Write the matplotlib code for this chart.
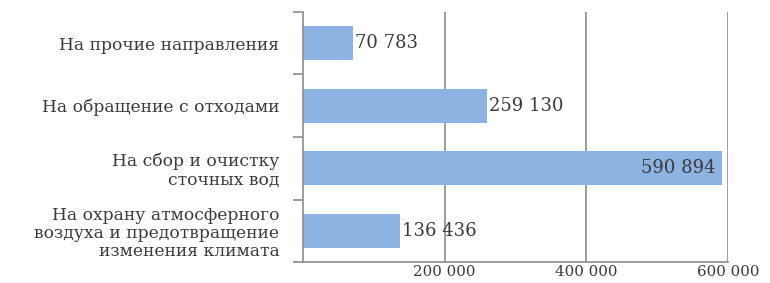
import numpy as np
import matplotlib.pyplot as plt
from matplotlib.ticker import FuncFormatter

categories = ['На охрану атмосферного\nвоздуха и предотвращение\nизменения климата',
              'На сбор и очистку\nсточных вод',
              'На обращение с отходами',
              'На прочие направления']
values = [136436, 590894, 259130, 70783]
xticks = [200000, 400000, 600000]

def fmt(v):
    return '{:,}'.format(int(v)).replace(',', ' ')

plt.rcParams['font.family'] = ['DejaVu Serif']
grey = '#8c8c8c'
text_c = '#3a3a3a'

fig = plt.figure(figsize=(7.7, 2.83), dpi=100)
ax = fig.add_axes([0.3935, 0.074, 0.552, 0.884])

y = np.arange(len(values))
ax.barh(y, values, height=0.55, color='#8db3e2', zorder=2)
ax.set_xlim(0, 600000)
ax.set_ylim(-0.5, len(values) - 0.5)

for yi, v in zip(y, values):
    if v > 500000:
        ax.text(v - 8000, yi, fmt(v), ha='right', va='center', fontsize=13, color=text_c, zorder=3)
    else:
        ax.text(v + 3000, yi, fmt(v), ha='left', va='center', fontsize=13, color=text_c, zorder=3)

ax.set_yticks(y)
ax.set_yticklabels(categories, fontsize=12.3, color=text_c, linespacing=1.08)
ax.tick_params(axis='y', which='major', length=0, pad=17)
ax.set_yticks(np.arange(-0.5, len(values)), minor=True)
ax.tick_params(axis='y', which='minor', length=7, color=grey, width=1.2)

ax.set_xticks(xticks)
ax.xaxis.set_major_formatter(FuncFormatter(lambda v, p: fmt(v)))
ax.tick_params(axis='x', length=0, labelsize=10.8, labelcolor=text_c, pad=2)
ax.grid(axis='x', color=grey, linewidth=1.2, zorder=0)

for s in ['top', 'right']:
    ax.spines[s].set_visible(False)
for s in ['left', 'bottom']:
    ax.spines[s].set_color(grey)
    ax.spines[s].set_linewidth(1.2)

fig.savefig('out.png', dpi=100)
